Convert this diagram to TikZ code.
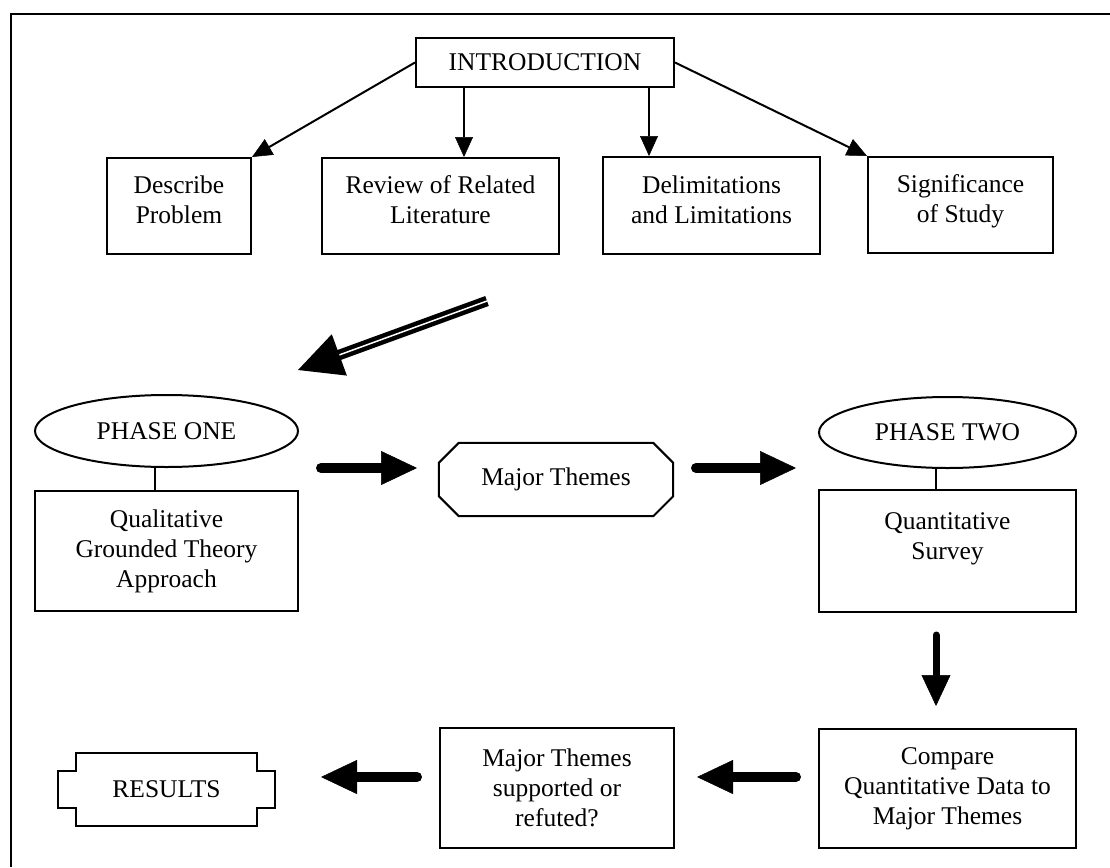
\documentclass[tikz,border=0pt]{standalone}
\usepackage{fontspec}
\setmainfont{Liberation Serif}
\usetikzlibrary{arrows.meta,shapes.geometric,calc}
\begin{document}
\begin{tikzpicture}[x=1pt,y=-1pt,
  txt/.style={align=center, inner sep=0pt, font=\fontsize{25.5}{30}\selectfont},
  box/.style={txt, draw, line width=2pt},
  ell/.style={box, ellipse},
  upper/.style={text depth=12pt},
  arr/.style={line width=2pt, -{Triangle[length=20pt,width=18pt,line width=0.5pt]}},
  fat/.style={line width=10pt, line cap=round, -{Triangle[length=36pt,width=34pt,line width=0.5pt]}},
  fatv/.style={line width=7pt, line cap=round, -{Triangle[length=31pt,width=29pt,line width=0.5pt]}},
  outline/.style={line width=2pt, line join=miter}
]
\useasboundingbox (0,0) rectangle (1110,867);
% frame
\coordinate (fbl) at (11,867);
\coordinate (ftl) at (11,14);
\coordinate (ftr) at (1110,14);
\draw[line width=2pt] (fbl) -- (ftl) -- (ftr);

% top row
\node[box, minimum width=258pt, minimum height=49pt] (intro) at (545,62.5) {INTRODUCTION};
\node[box, upper, minimum width=144pt, minimum height=96pt] (desc) at (179,206) {Describe\\Problem};
\node[box, upper, minimum width=237pt, minimum height=96pt] (rev) at (440.5,206) {Review of Related\\Literature};
\node[box, upper, minimum width=217pt, minimum height=97pt] (delim) at (711.5,205.5) {Delimitations\\and Limitations};
\node[box, upper, minimum width=185pt, minimum height=96pt] (sig) at (960.5,205) {Significance\\of Study};

\coordinate (c3) at (464,0);
\coordinate (c4) at (649,0);
\draw[arr] (intro.west) -- (desc.north east);
\draw[arr] (intro.south -| c3) -- (rev.north -| c3);
\draw[arr] (intro.south -| c4) -- (delim.north -| c4);
\draw[arr] (intro.east) -- (sig.north west);

% big double arrow
\coordinate (bt) at (487,301);
\coordinate (bh) at (298,370);
\coordinate (bb) at ($(bh)!44pt!(bt)$);
\draw[line width=4.5pt, double=white, double distance=1.5pt] (bt) -- ($(bh)!40pt!(bt)$);
\fill (bh) -- ($(bb)!22pt!90:(bh)$) -- ($(bb)!22pt!-90:(bh)$) -- cycle;

% phase one
\node[ell, minimum width=263pt, minimum height=72pt] (p1) at (166.5,431) {PHASE ONE};
\node[box, minimum width=263pt, minimum height=120pt] (qual) at (166.5,551) {Qualitative\\Grounded Theory\\Approach};
\coordinate (c1) at (155,0);
\draw[line width=1.5pt] (p1.south -| c1) -- (qual.north -| c1);

% major themes octagon
\node[txt, minimum width=234pt, minimum height=73pt] (mt) at (556,479.5) {Major Themes};
\draw[outline] ($(mt.north west)+(20,0)$) -- ($(mt.north east)+(-20,0)$) -- ($(mt.north east)+(0,20)$)
  -- ($(mt.south east)+(0,-20)$) -- ($(mt.south east)+(-20,0)$) -- ($(mt.south west)+(20,0)$)
  -- ($(mt.south west)+(0,-20)$) -- ($(mt.north west)+(0,20)$) -- cycle;

% phase two
\node[ell, minimum width=257pt, minimum height=71pt] (p2) at (947.5,432.5) {PHASE TWO};
\node[box, minimum width=257pt, minimum height=122pt] (qs) at (947.5,551) {Quantitative\\Survey\\\mbox{}};
\coordinate (c2) at (936,0);
\draw[line width=1.5pt] (p2.south -| c2) -- (qs.north -| c2);

% fat arrows
\coordinate (a1s) at (321,468);
\coordinate (a1e) at (417,468);
\coordinate (a2s) at (696,468);
\coordinate (a2e) at (796,468);
\draw[fat] (a1s) -- (a1e);
\draw[fat] (a2s) -- (a2e);

\coordinate (ds) at (936,635);
\coordinate (de) at (936,706);
\draw[fatv] (ds) -- (de);

% bottom row
\node[box, minimum width=257pt, minimum height=119pt] (cmp) at (947.5,788.5) {Compare\\Quantitative Data to\\Major Themes};
\node[box, minimum width=234pt, minimum height=120pt] (sup) at (557,788) {Major Themes\\supported or\\refuted?};
\node[txt, minimum width=217pt, minimum height=73pt] (res) at (166.5,789.5) {RESULTS};
\draw[outline] ($(res.north west)+(18,0)$) -- ($(res.north east)+(-18,0)$) -- ($(res.north east)+(-18,18)$)
  -- ($(res.north east)+(0,18)$) -- ($(res.south east)+(0,-18)$) -- ($(res.south east)+(-18,-18)$)
  -- ($(res.south east)+(-18,0)$) -- ($(res.south west)+(18,0)$) -- ($(res.south west)+(18,-18)$)
  -- ($(res.south west)+(0,-18)$) -- ($(res.north west)+(0,18)$) -- ($(res.north west)+(18,18)$) -- cycle;

\coordinate (l1s) at (796,777);
\coordinate (l1e) at (697,777);
\coordinate (l2s) at (417,777);
\coordinate (l2e) at (321,777);
\draw[fat] (l1s) -- (l1e);
\draw[fat] (l2s) -- (l2e);
\end{tikzpicture}
\end{document}
